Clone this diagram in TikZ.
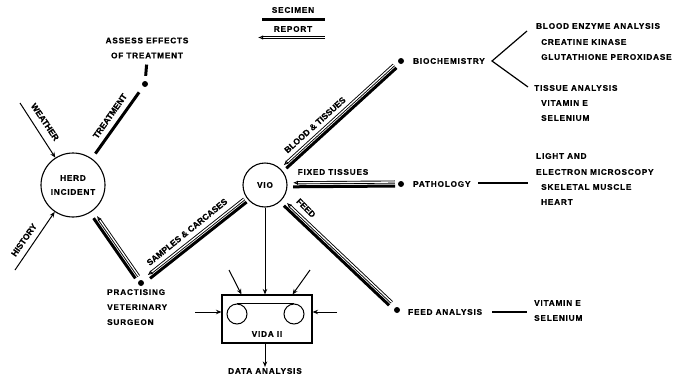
\documentclass[tikz,border=0pt]{standalone}
\usepackage{fontspec}
\newfontfamily\lblfont[LetterSpace=10,BoldFeatures={FakeBold=0.6}]{Liberation Sans}
\newfontfamily\slantfont[BoldFeatures={FakeBold=0.6}]{Liberation Sans}
\usetikzlibrary{arrows.meta,calc,positioning}

% specimen goes #1 -> #2, report comes back #2 -> #1
\newcommand\pairsep{2pt}
\newcommand\samplelink[4]{%
  \coordinate (p1) at ($(#1)!#3!(#2)$);
  \coordinate (p2) at ($(#2)!#4!(#1)$);
  \draw[specimen] ($(p1)!\pairsep!-90:(p2)$) -- ($(p2)!\pairsep!90:(p1)$);
  \draw[report] ($(p2)!\pairsep!-90:(p1)$) -- ($(p1)!\pairsep!90:(p2)$);}

\begin{document}
\begin{tikzpicture}[x=1pt,y=-1pt,
    every node/.style={font=\lblfont\bfseries\fontsize{8.2}{9}\selectfont,inner sep=1pt},
    along/.style={font=\slantfont\bfseries\fontsize{8.6}{9}\selectfont},
    specimen/.style={line width=3pt},
    report/.style={line width=0.9pt,double distance=1.3pt,-{Latex[open,length=5pt,width=4.5pt]}},
    feeder/.style={line width=1pt,-{Stealth[length=5.5pt,width=4.5pt]}},
    thin/.style={line width=1.2pt},
    dot/.style={circle,fill,inner sep=0pt,minimum size=6pt},
    place/.style={draw,circle,line width=1.1pt,align=center}]
  \useasboundingbox (0,0) rectangle (681,378);

  % legend
  \node (secl) at (293,10) {SECIMEN};
  \node (repl) at (293,29) {REPORT};
  \coordinate (sa) at (262,19.5); \coordinate (sb) at (325,19.5);
  \coordinate (ra) at (325,37.5); \coordinate (rb) at (258,37.5);
  \draw[specimen] (sa) -- (sb);
  \draw[report] (ra) -- (rb);

  % main places
  \node[place,minimum size=64pt] (herd) at (73,185) {HERD\\[5pt]INCIDENT};
  \node[place,minimum size=44pt] (vio) at (265,185) {VIO};
  \node[dot] (adot) at (145,84) {};
  \node[dot] (pvs) at (141,283) {};
  \node[dot] (bdot) at (401,61) {};
  \node[dot] (pdot) at (401,184) {};
  \node[dot] (fdot) at (397,310) {};

  \node[align=center] (assess) at (147,48) {ASSESS EFFECTS\\[6pt]OF TREATMENT};
  \node[align=left,anchor=north west] (pvst) at (106,288) {PRACTISING\\[6pt]VETERINARY\\[6pt]SURGEON};
  \node[anchor=west] (btxt) at (412,61) {BIOCHEMISTRY};
  \node[anchor=west] (ptxt) at (412,184) {PATHOLOGY};
  \node[anchor=west] (ftxt) at (407,312) {FEED ANALYSIS};

  % result lists
  \node[anchor=west] (bea) at (535,26) {BLOOD ENZYME ANALYSIS};
  \node[anchor=west] (ck) at (540,42) {CREATINE KINASE};
  \node[anchor=west] (gp) at (540,57) {GLUTATHIONE PEROXIDASE};
  \node[anchor=west] (ta) at (533,88) {TISSUE ANALYSIS};
  \node[anchor=west] (ve1) at (540,103) {VITAMIN E};
  \node[anchor=west] (se1) at (540,118) {SELENIUM};
  \node[anchor=west] (la) at (535,156) {LIGHT AND};
  \node[anchor=west] (em) at (535,172) {ELECTRON MICROSCOPY};
  \node[anchor=west] (sm) at (540,187) {SKELETAL MUSCLE};
  \node[anchor=west] (ht) at (540,202) {HEART};
  \node[anchor=west] (ve2) at (533,303) {VITAMIN E};
  \node[anchor=west] (se2) at (533,318) {SELENIUM};

  % VIDA II
  \node[draw,line width=1.1pt,minimum width=90pt,minimum height=48pt] (vida) at (267,319) {};
  \node[draw,circle,line width=1pt,minimum size=20pt] (lc) at (237,314) {};
  \node[draw,circle,line width=1pt,minimum size=20pt] (rc) at (294,314) {};
  \draw[line width=1pt] (lc.north) -- (rc.north);
  \node (vidat) at (267,334) {VIDA II};
  \node (data) at (265,371) {DATA ANALYSIS};

  % free ends
  \coordinate (wth) at (20,103);
  \coordinate (hst) at (15,270);
  \coordinate (in1) at (229,270); \coordinate (in2) at (310,270);
  \coordinate (in3) at (195,312); \coordinate (in4) at (337,312);
  \coordinate (brk) at (492,61);
  \coordinate (brk1) at (527,31); \coordinate (brk2) at (528,87);
  \coordinate (pl) at (478,183); \coordinate (pr) at (528,183);
  \coordinate (fl) at (492,312); \coordinate (fr) at (527,312);

  % herd side
  \draw[feeder] (wth) -- (herd);
  \draw[feeder] (hst) -- (herd);
  \draw[specimen,shorten <=6pt,shorten >=7pt] (herd) -- (adot);
  \draw[specimen,shorten <=5pt,shorten >=5pt] (assess.south) -- (adot);
  \node[along,rotate=-56] at (45,122) {WEATHER};
  \node[along,rotate=55] at (110,116) {TREATMENT};
  \node[along,rotate=55] at (24,240) {HISTORY};

  % specimens and reports
  \samplelink{herd}{pvs}{39pt}{7pt}
  \samplelink{pvs}{vio}{10pt}{25pt}
  \samplelink{vio}{bdot}{27pt}{8pt}
  \samplelink{vio}{pdot}{28pt}{6pt}
  \samplelink{vio}{fdot}{28pt}{9pt}
  \node[along,rotate=39] at (187,232) {SAMPLES \& CARCASES};
  \node[along,rotate=42] at (315,125) {BLOOD \& TISSUES};
  \node at (333,172) {FIXED TISSUES};
  \node[along,rotate=-45] at (306,208) {FEED};

  % analyses
  \draw[thin] (brk1) -- (brk) -- (brk2);
  \draw[thin] (pl) -- (pr);
  \draw[thin] (fl) -- (fr);

  % into VIDA II
  \draw[feeder] (vio.south) -- (vio.south |- vida.north);
  \draw[feeder] (in1) -- ([xshift=20pt]vida.north west);
  \draw[feeder] (in2) -- ([xshift=-20pt]vida.north east);
  \draw[feeder] (in3) -- (vida.west |- in3);
  \draw[feeder] (in4) -- (vida.east |- in4);
  \draw[feeder] (vida.south -| data) -- (data);
\end{tikzpicture}
\end{document}
